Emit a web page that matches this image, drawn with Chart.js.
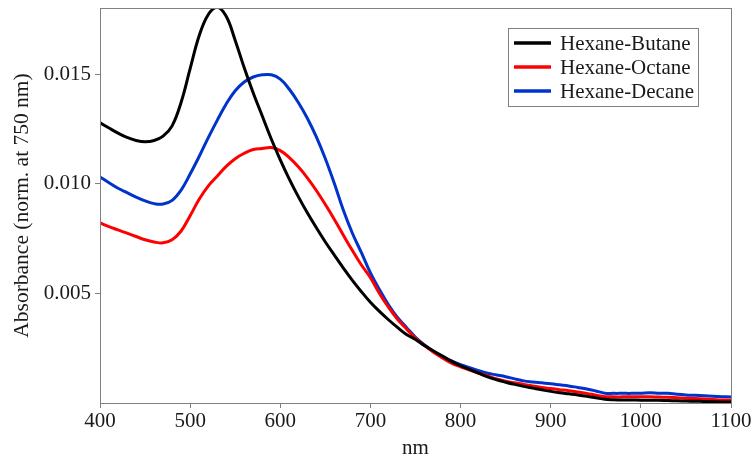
<!DOCTYPE html>
<html><head><meta charset="utf-8">
<script src="https://cdn.jsdelivr.net/npm/chart.js@4/dist/chart.umd.min.js"></script>
<style>html,body{margin:0;padding:0;background:#fff}#wrap{width:754px;height:461px}</style>
</head><body><div id="wrap"><canvas id="c" width="754" height="461"></canvas></div>
<script>
const wavelengths = [400,410,420,430,440,450,460,470,480,490,500,510,520,530,540,550,560,570,580,590,600,610,620,630,640,650,660,670,680,690,700,710,720,730,740,750,760,770,780,790,800,810,820,830,840,850,860,870,880,890,900,910,920,930,940,950,960,970,980,990,1000,1010,1020,1030,1040,1050,1060,1070,1080,1090,1100];
const butane = [0.01279,0.01255,0.01232,0.01212,0.01198,0.01192,0.01198,0.01218,0.01265,0.01373,0.01526,0.01676,0.01772,0.01806,0.01765,0.01655,0.01530,0.01415,0.01310,0.01205,0.01110,0.01022,0.00942,0.00868,0.00800,0.00735,0.00675,0.00616,0.00560,0.00508,0.00460,0.00418,0.00380,0.00345,0.00313,0.00290,0.00262,0.00237,0.00214,0.00190,0.00170,0.00153,0.00136,0.00119,0.00106,0.00095,0.00085,0.00076,0.00068,0.00060,0.00053,0.00047,0.00042,0.00037,0.00031,0.00024,0.00017,0.00015,0.00014,0.00014,0.00013,0.00013,0.00012,0.00011,0.00010,0.00009,0.00008,0.00007,0.00006,0.00005,0.00005];
const octane = [0.00822,0.00805,0.00790,0.00775,0.00760,0.00745,0.00735,0.00731,0.00745,0.00785,0.00855,0.00930,0.00990,0.01035,0.01080,0.01115,0.01140,0.01157,0.01162,0.01166,0.01152,0.01120,0.01078,0.01028,0.00970,0.00906,0.00838,0.00766,0.00696,0.00630,0.00572,0.00500,0.00437,0.00382,0.00338,0.00296,0.00262,0.00232,0.00206,0.00182,0.00165,0.00150,0.00136,0.00123,0.00110,0.00100,0.00092,0.00085,0.00078,0.00071,0.00066,0.00061,0.00056,0.00050,0.00044,0.00036,0.00029,0.00028,0.00028,0.00028,0.00028,0.00028,0.00027,0.00026,0.00024,0.00022,0.00020,0.00018,0.00016,0.00014,0.00013];
const decane = [0.01032,0.01005,0.00980,0.00960,0.00940,0.00923,0.00910,0.00908,0.00925,0.00972,0.01045,0.01125,0.01210,0.01290,0.01365,0.01425,0.01465,0.01488,0.01498,0.01498,0.01478,0.01432,0.01372,0.01300,0.01215,0.01115,0.01002,0.00880,0.00775,0.00686,0.00594,0.00518,0.00448,0.00390,0.00345,0.00300,0.00265,0.00235,0.00212,0.00192,0.00175,0.00161,0.00148,0.00136,0.00128,0.00120,0.00110,0.00101,0.00096,0.00092,0.00088,0.00083,0.00078,0.00071,0.00064,0.00055,0.00045,0.00044,0.00044,0.00044,0.00045,0.00047,0.00045,0.00044,0.00040,0.00037,0.00035,0.00033,0.00031,0.00029,0.00027];
const seriesLabels = ['Hexane-Butane','Hexane-Octane','Hexane-Decane'];
const xTicks = [400,500,600,700,800,900,1000,1100];
const yTicks = [0.005,0.010,0.015];

const colors = ['#000000','#ff0000','#0033cc'];
const FONT = "'Liberation Serif','Times New Roman',serif";
const mk = arr => wavelengths.map((x,i)=>({x:x,y:arr[i]}));

const boxPlugin = {
  id:'box',
  afterDraw(chart){
    const {ctx, chartArea:a} = chart;
    ctx.save();
    ctx.strokeStyle='#808080'; ctx.lineWidth=1;
    ctx.strokeRect(a.left+0.5, a.top+0.5, a.right-a.left, a.bottom-a.top);
    const lx=508, ly=28, lw=190, lh=78;
    ctx.fillStyle='#fff'; ctx.fillRect(lx,ly,lw,lh);
    ctx.strokeStyle='#808080'; ctx.strokeRect(lx+0.5,ly+0.5,lw,lh);
    ctx.font = "21px "+FONT; ctx.textBaseline='middle'; ctx.textAlign='left';
    chart.data.datasets.forEach((d,i)=>{
      const y = 43 + i*24;
      ctx.strokeStyle=d.borderColor; ctx.lineWidth=3.5;
      ctx.beginPath(); ctx.moveTo(514,y); ctx.lineTo(551,y); ctx.stroke();
      ctx.fillStyle='#1a1a1a'; ctx.fillText(d.label,560,y+1);
    });
    ctx.restore();
  }
};

new Chart(document.getElementById('c'), {
  type:'line',
  data:{datasets:[
    {label:seriesLabels[0], data:mk(butane), borderColor:colors[0]},
    {label:seriesLabels[1], data:mk(octane), borderColor:colors[1]},
    {label:seriesLabels[2], data:mk(decane), borderColor:colors[2]}
  ].map(d=>Object.assign(d,{borderWidth:3, pointRadius:0, fill:false, tension:0.4}))},
  options:{
    responsive:false, animation:false, devicePixelRatio:1,
    layout:{padding:{left:0,right:23,top:8,bottom:0}},
    plugins:{legend:{display:false}, tooltip:{enabled:false}},
    scales:{
      x:{type:'linear', min:400, max:1100,
        afterBuildTicks(s){ s.ticks = xTicks.map(v=>({value:v})); },
        afterFit(s){ s.height = 58; s.paddingLeft = 0; s.paddingRight = 0; },
        grid:{drawOnChartArea:false, drawTicks:true, tickLength:5, color:'#808080'},
        border:{color:'#808080'},
        ticks:{font:{family:FONT,size:21}, color:'#1a1a1a', padding:1, maxRotation:0, callback:v=>String(v)},
        title:{display:true, text:'nm', font:{family:FONT,size:21}, color:'#1a1a1a', padding:{top:0,bottom:0}}
      },
      y:{type:'linear', min:0, max:0.01803,
        afterBuildTicks(s){ s.ticks = yTicks.map(v=>({value:v})); },
        afterFit(s){ s.width = 100; s.paddingTop = 0; s.paddingBottom = 0; },
        grid:{drawOnChartArea:false, drawTicks:true, tickLength:5, color:'#808080'},
        border:{color:'#808080'},
        ticks:{font:{family:FONT,size:21}, color:'#1a1a1a', padding:4, callback:v=>v.toFixed(3)},
        title:{display:true, text:'Absorbance (norm. at 750 nm)', font:{family:FONT,size:21.5}, color:'#1a1a1a', padding:{top:9,bottom:0}}
      }
    }
  },
  plugins:[boxPlugin]
});
</script></body></html>
